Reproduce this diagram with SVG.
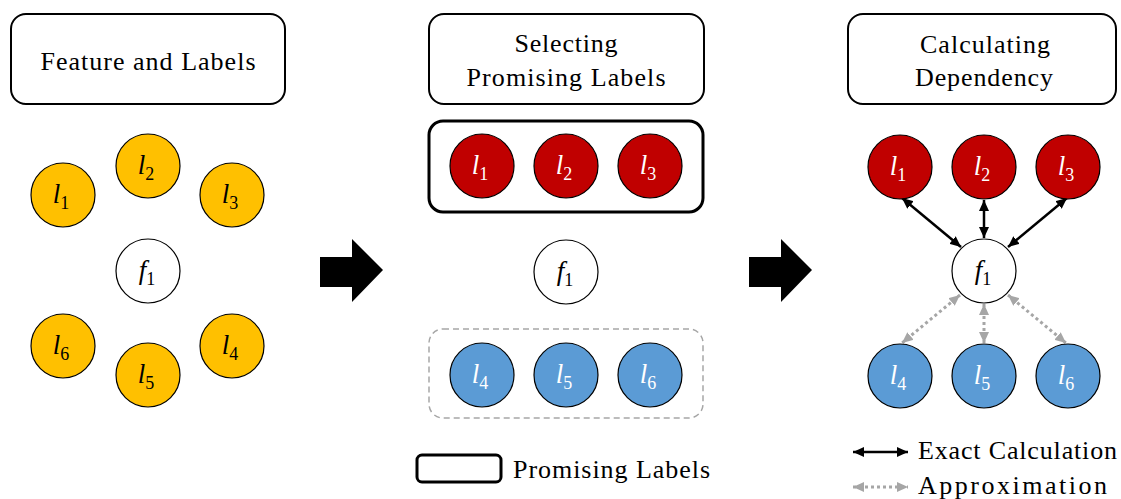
<svg xmlns="http://www.w3.org/2000/svg" width="1121" height="499" viewBox="0 0 1121 499">
<defs>
<style>
text{font-family:"Liberation Serif","Times New Roman",Times,serif}
.title{fill:#fff;stroke:#000;stroke-width:2}
.tt{font-size:26px;fill:#000;text-anchor:middle}
.lt{font-size:26px;fill:#000}
.y{fill:#FFC000;stroke:#000;stroke-width:1.2}
.r{fill:#C00000;stroke:#000;stroke-width:1.2}
.b{fill:#5B9BD5;stroke:#000;stroke-width:1.2}
.w{fill:#fff;stroke:#000;stroke-width:1.2}
.m{font-size:27px;text-anchor:middle;fill:#000}
.mw{fill:#fff}
.i{font-style:italic}
.s{font-size:18px}
.ex{stroke:#000;stroke-width:2.5;fill:none;marker-start:url(#ab);marker-end:url(#ab)}
.ap{stroke:#A6A6A6;stroke-width:3;stroke-dasharray:3 3;fill:none;marker-start:url(#ag);marker-end:url(#ag)}
</style>
<marker id="ab" markerUnits="userSpaceOnUse" markerWidth="11" markerHeight="10" refX="11" refY="5" orient="auto-start-reverse" viewBox="0 0 11 10"><path d="M0,0 L11,5 L0,10 z" fill="#000"/></marker>
<marker id="ag" markerUnits="userSpaceOnUse" markerWidth="11" markerHeight="10" refX="11" refY="5" orient="auto-start-reverse" viewBox="0 0 11 10"><path d="M0,0 L11,5 L0,10 z" fill="#A6A6A6"/></marker>
</defs>
<rect width="1121" height="499" fill="#fff"/>
<g id="title1"><rect class="title" x="11" y="14" width="274" height="90" rx="15"/><text class="tt" x="148" y="70" textLength="215" lengthAdjust="spacing">Feature and Labels</text></g>
<g id="title2"><rect class="title" x="429" y="14" width="275" height="90" rx="15"/><text class="tt" x="566" y="52" textLength="103" lengthAdjust="spacing">Selecting</text><text class="tt" x="566" y="86" textLength="199" lengthAdjust="spacing">Promising Labels</text></g>
<g id="title3"><rect class="title" x="848" y="14" width="268" height="90" rx="15"/><text class="tt" x="985" y="53" textLength="130" lengthAdjust="spacing">Calculating</text><text class="tt" x="984" y="86" textLength="138" lengthAdjust="spacing">Dependency</text></g>

<g id="panel1">
<g id="p1-l1"><circle class="y" cx="63" cy="195" r="32"/><text class="m" x="61" y="203"><tspan class="i">l</tspan><tspan class="s" dy="6">1</tspan></text></g>
<g id="p1-l2"><circle class="y" cx="148" cy="166" r="32"/><text class="m" x="146" y="174"><tspan class="i">l</tspan><tspan class="s" dy="6">2</tspan></text></g>
<g id="p1-l3"><circle class="y" cx="232" cy="195" r="32"/><text class="m" x="230" y="203"><tspan class="i">l</tspan><tspan class="s" dy="6">3</tspan></text></g>
<g id="p1-f1"><circle class="w" cx="148" cy="271" r="32"/><text class="m" x="147" y="279"><tspan class="i">f</tspan><tspan class="s" dy="6">1</tspan></text></g>
<g id="p1-l6"><circle class="y" cx="63" cy="346" r="32"/><text class="m" x="61" y="354"><tspan class="i">l</tspan><tspan class="s" dy="6">6</tspan></text></g>
<g id="p1-l5"><circle class="y" cx="148" cy="375" r="32"/><text class="m" x="146" y="383"><tspan class="i">l</tspan><tspan class="s" dy="6">5</tspan></text></g>
<g id="p1-l4"><circle class="y" cx="232" cy="346" r="32"/><text class="m" x="230" y="354"><tspan class="i">l</tspan><tspan class="s" dy="6">4</tspan></text></g>
</g>

<g id="arrow1"><path d="M320,257 H352 V239 L383,270 L352,302 V287 H320 z" fill="#000"/></g>
<g id="arrow2"><path d="M749,257 H781 V239 L812,270 L781,302 V287 H749 z" fill="#000"/></g>

<g id="panel2">
<g id="promising-box"><rect x="429" y="121" width="274" height="91" rx="14" fill="none" stroke="#000" stroke-width="3"/></g>
<g id="other-box"><rect x="429" y="329" width="274" height="89" rx="14" fill="none" stroke="#A6A6A6" stroke-width="1.5" stroke-dasharray="6 4"/></g>
<g id="p2-l1"><circle class="r" cx="482" cy="166" r="32"/><text class="m mw" x="480" y="174"><tspan class="i">l</tspan><tspan class="s" dy="6">1</tspan></text></g>
<g id="p2-l2"><circle class="r" cx="566" cy="166" r="32"/><text class="m mw" x="564" y="174"><tspan class="i">l</tspan><tspan class="s" dy="6">2</tspan></text></g>
<g id="p2-l3"><circle class="r" cx="650" cy="166" r="32"/><text class="m mw" x="648" y="174"><tspan class="i">l</tspan><tspan class="s" dy="6">3</tspan></text></g>
<g id="p2-f1"><circle class="w" cx="566" cy="272" r="32"/><text class="m" x="565" y="280"><tspan class="i">f</tspan><tspan class="s" dy="6">1</tspan></text></g>
<g id="p2-l4"><circle class="b" cx="482" cy="375" r="32"/><text class="m mw" x="480" y="383"><tspan class="i">l</tspan><tspan class="s" dy="6">4</tspan></text></g>
<g id="p2-l5"><circle class="b" cx="566" cy="375" r="32"/><text class="m mw" x="564" y="383"><tspan class="i">l</tspan><tspan class="s" dy="6">5</tspan></text></g>
<g id="p2-l6"><circle class="b" cx="650" cy="375" r="32"/><text class="m mw" x="648" y="383"><tspan class="i">l</tspan><tspan class="s" dy="6">6</tspan></text></g>
</g>

<g id="connectors">
<line class="ex" x1="902" y1="198" x2="961" y2="247"/>
<line class="ex" x1="984" y1="200" x2="984" y2="238"/>
<line class="ex" x1="1067" y1="198" x2="1008" y2="247"/>
<line class="ap" x1="960" y1="295" x2="902" y2="343"/>
<line class="ap" x1="984" y1="304" x2="984" y2="343"/>
<line class="ap" x1="1008" y1="295" x2="1066" y2="343"/>
</g>

<g id="panel3">
<g id="p3-l1"><circle class="r" cx="900" cy="167" r="32"/><text class="m mw" x="898" y="175"><tspan class="i">l</tspan><tspan class="s" dy="6">1</tspan></text></g>
<g id="p3-l2"><circle class="r" cx="984" cy="167" r="32"/><text class="m mw" x="982" y="175"><tspan class="i">l</tspan><tspan class="s" dy="6">2</tspan></text></g>
<g id="p3-l3"><circle class="r" cx="1068" cy="167" r="32"/><text class="m mw" x="1066" y="175"><tspan class="i">l</tspan><tspan class="s" dy="6">3</tspan></text></g>
<g id="p3-f1"><circle class="w" cx="984" cy="271" r="32"/><text class="m" x="983" y="279"><tspan class="i">f</tspan><tspan class="s" dy="6">1</tspan></text></g>
<g id="p3-l4"><circle class="b" cx="900" cy="376" r="32"/><text class="m mw" x="898" y="384"><tspan class="i">l</tspan><tspan class="s" dy="6">4</tspan></text></g>
<g id="p3-l5"><circle class="b" cx="984" cy="376" r="32"/><text class="m mw" x="982" y="384"><tspan class="i">l</tspan><tspan class="s" dy="6">5</tspan></text></g>
<g id="p3-l6"><circle class="b" cx="1068" cy="376" r="32"/><text class="m mw" x="1066" y="384"><tspan class="i">l</tspan><tspan class="s" dy="6">6</tspan></text></g>
</g>

<g id="legend">
<rect x="417" y="455" width="84" height="27" rx="5" fill="none" stroke="#000" stroke-width="3"/>
<text class="lt" x="513" y="478" textLength="197" lengthAdjust="spacing">Promising Labels</text>
<line class="ex" x1="853" y1="452" x2="908" y2="452"/>
<text class="lt" x="918" y="459" textLength="199" lengthAdjust="spacing">Exact Calculation</text>
<line class="ap" x1="853" y1="487" x2="908" y2="487"/>
<text class="lt" x="918" y="494" textLength="189" lengthAdjust="spacing">Approximation</text>
</g>
</svg>
